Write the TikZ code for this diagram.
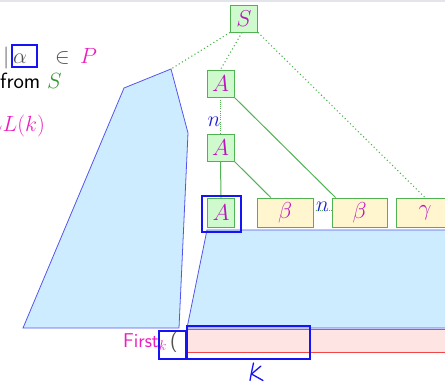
\documentclass[tikz,border=0pt]{standalone}
\usepackage{fix-cm}
\usepackage{fontspec}
\usetikzlibrary{calc}
\definecolor{ntfill}{RGB}{206,250,206}
\definecolor{tfill}{RGB}{255,245,206}
\definecolor{boxgreen}{RGB}{80,178,80}
\definecolor{symmag}{RGB}{190,20,190}
\definecolor{pmag}{RGB}{235,30,190}
\definecolor{regionfill}{RGB}{206,236,255}
\definecolor{regionblue}{RGB}{85,85,235}
\definecolor{selblue}{RGB}{20,20,245}
\definecolor{nblue}{RGB}{30,30,215}
\definecolor{pinkfill}{RGB}{255,228,228}
\definecolor{pinkline}{RGB}{240,70,70}
\definecolor{sgreen}{RGB}{50,150,50}
\definecolor{topgray}{RGB}{228,228,235}
\definecolor{symgray}{RGB}{80,80,80}
\begin{document}
\begin{tikzpicture}[x=1pt,y=-1pt,
  font=\fontsize{22}{26}\selectfont,
  sym/.style={draw=boxgreen, line width=0.9pt, minimum height=27pt, inner sep=0pt,
              text=symmag, font=\fontsize{23}{26}\selectfont},
  nt/.style={sym, fill=ntfill, minimum width=27pt},
  tm/.style={sym, fill=tfill, minimum width=56pt, minimum height=29pt},
  treeline/.style={draw=boxgreen, line width=1pt},
  derive/.style={treeline, line width=1.1pt, dash pattern=on 1.1pt off 2.6pt},
  repeated/.style={treeline, line width=0.9pt, dash pattern=on 0.9pt off 1.3pt},
  region/.style={fill=regionfill, draw=regionblue, line width=0.8pt},
  selbox/.style={draw=selblue, line width=1.6pt, inner sep=0pt},
  nlab/.style={text=nblue, inner sep=0pt},
  txt/.style={inner sep=0pt, anchor=base west}
]
\useasboundingbox (0,0) rectangle (445,383);
\fill[topgray] (0,0) rectangle (445,2);

% left region (derivation from S down to A)
\coordinate (lt) at (171,69);
\path[region] (lt) -- (124,88) -- (23,328) -- (179,328) -- (188,133) -- cycle;

% right region (derivation of the rest of the word)
\path[region] (207,230) -- (450,230) -- (450,328) -- (187,328) -- cycle;

% input word strip
\path[fill=pinkfill, draw=pinkline, line width=0.8pt] (187,329) rectangle (452,352);

% tree symbols
\node[nt] (S) at (244,18.5) {$S$};
\node[nt] (A1) at (220.5,83.5) {$A$};
\node[nt] (A2) at (220.5,147.5) {$A$};
\node[nt, minimum height=29pt] (A3) at (221,212.5) {$A$};
\node[tm] (b1) at (285,212.5) {$\beta$};
\node[tm, minimum width=55pt] (b2) at (359.5,212.5) {$\beta$};
\node[tm, minimum width=58pt] (g) at (425,212.5) {$\gamma$};

% derivation edges
\draw[derive] (S.south west) -- (lt);
\draw[derive] ([xshift=-2pt]S.south) -- (A1.north);
\draw[derive] (S.south east) -- (g.north);
\draw[repeated] (A1.south) -- (A2.north);
\draw[repeated] ([yshift=2pt]b1.east) -- ([yshift=2pt]b2.west);
\draw[treeline] (A2.south) -- (A3.north);
\draw[treeline] (A2.south east) -- ($(b1.north west)!0.25!(b1.north east)$);
\draw[treeline] (A1.south east) -- ([xshift=4pt]b2.north west);

\node[nlab] (n1) at (214,121.5) {$n$};
\node[nlab] (n2) at (322.5,207) {$n$};

% highlighted boxes
\node[selbox, minimum width=39pt, minimum height=36pt] (sel) at (221.5,214) {};
\node[selbox, minimum width=123pt, minimum height=33pt] (kbox) at (248.5,342.5) {};
\node[selbox, minimum width=27pt, minimum height=28pt] (fbox) at (172.5,345) {};

\node[txt] (first) at (123,347) {\fontsize{20}{23}\selectfont\sffamily\color{pmag}First$_{\color{pmag}k}$\,\color{symgray}(};

% hand-written k under the window
\draw[selblue, line width=1.3pt, line cap=round, line join=round]
  (253.5,363) .. controls (252,370) .. (250,380.5);
\draw[selblue, line width=1.3pt, line cap=round, line join=round]
  (261,366) -- (251.5,374) -- (263,380.5);

% production and caption text
\node[txt, text=symgray] (bar) at (3,63) {$|$};
\node[selbox, minimum width=25pt, minimum height=22pt] (abox) at (24.5,56) {};
\node[txt, text=symgray] (alpha) at (13,63) {$\alpha$};
\node[txt, text=symgray] (in) at (55,63) {$\in$};
\node[txt, text=pmag] (P) at (80,63) {$P$};
\node[txt] (from) at (0,88) {\sffamily from};
\node[txt, text=sgreen] (Sg) at (47,88) {$S$};
\node[inner sep=0pt, anchor=base east, text=pmag] (ll) at (45,131) {$LL(k)$};
\end{tikzpicture}
\end{document}
